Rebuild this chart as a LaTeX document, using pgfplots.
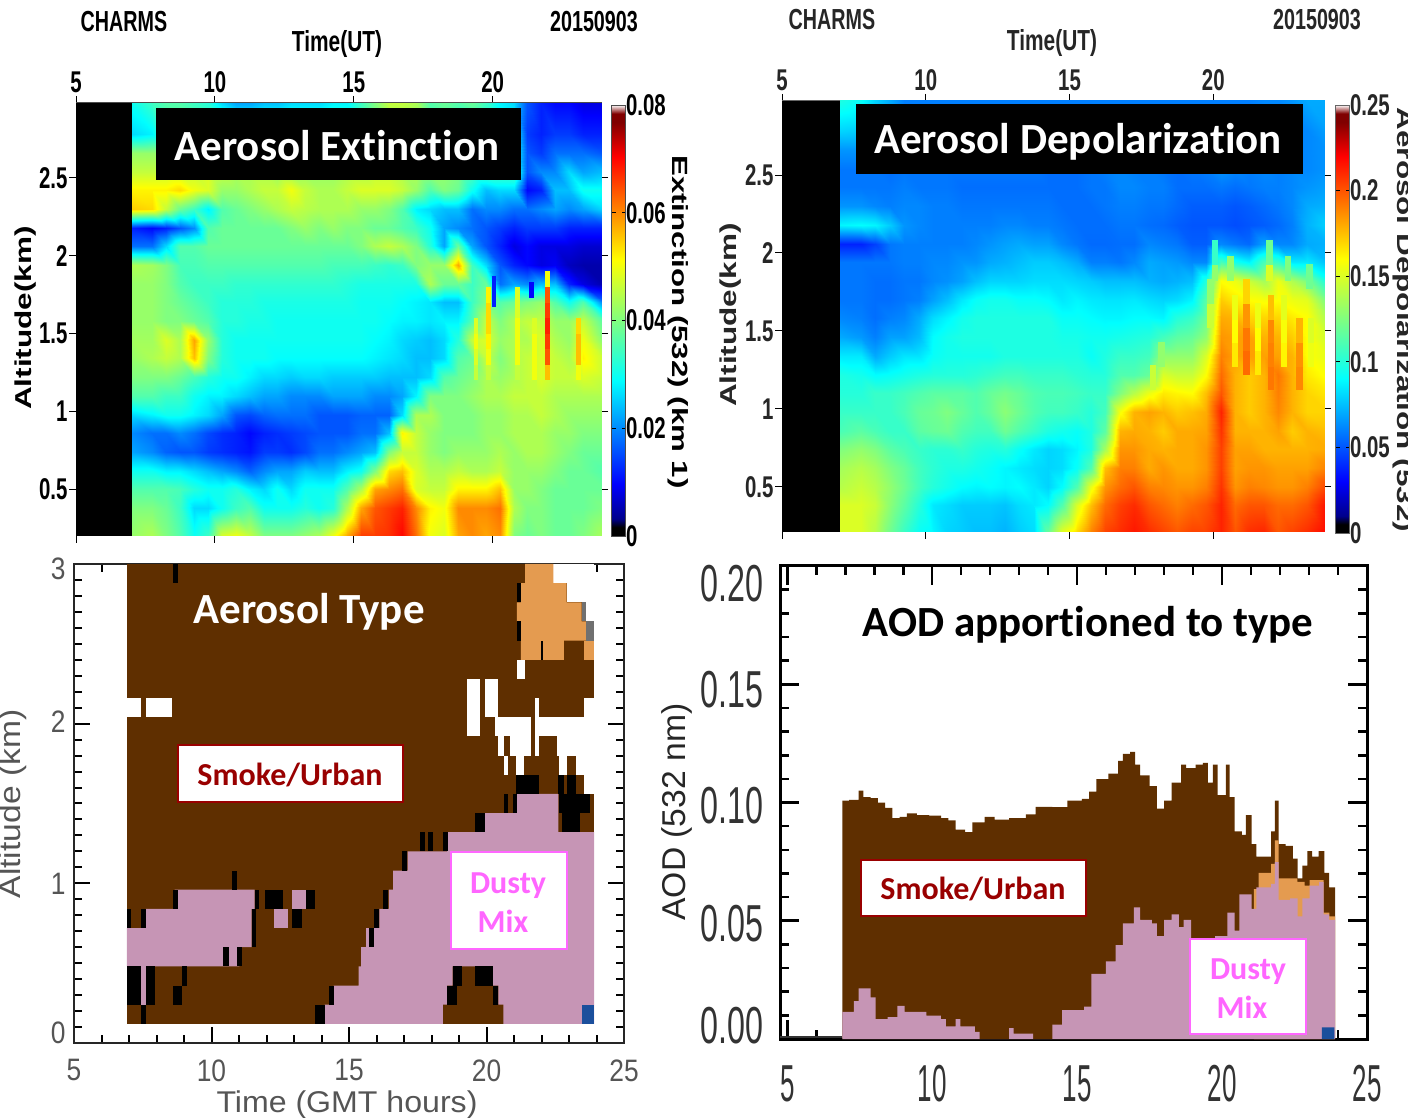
\documentclass[border=0pt]{standalone}
\usepackage{pgfplots}
\usepackage{pgfplotstable}
\usepackage{fontspec}
\pgfplotsset{compat=1.18}
\setmainfont{Liberation Sans}
\newfontfamily\calib[Ligatures=NoCommon]{Carlito}
\definecolor{brn}{HTML}{5F2F00}
\definecolor{pnk}{HTML}{C695B5}
\definecolor{org}{HTML}{E49B50}
\definecolor{blu}{HTML}{1B4F9C}
\definecolor{gry}{HTML}{707070}
\definecolor{smk}{HTML}{990000}
\definecolor{dst}{HTML}{FF66FF}
\definecolor{lab}{HTML}{555555}
\pgfplotsset{colormap={idl}{rgb255(0cm)=(0,0,0); rgb255(1cm)=(0,0,0); rgb255(2cm)=(0,0,140); rgb255(6cm)=(0,0,255);
 rgb255(18cm)=(0,255,255); rgb255(25cm)=(128,255,128); rgb255(32cm)=(255,255,0); rgb255(44cm)=(255,0,0);
 rgb255(48cm)=(128,0,0); rgb255(49cm)=(128,0,0); rgb255(50cm)=(255,255,255)}}
\pgfdeclareplotmark{spike}{\pgfpathrectangle{\pgfpoint{-2.4pt}{-8pt}}{\pgfpoint{4.8pt}{16pt}}\pgfusepathqfill}
\pgfdeclareplotmark{spikeB}{\pgfpathrectangle{\pgfpoint{-3.2pt}{-12.5pt}}{\pgfpoint{6.4pt}{25pt}}\pgfusepathqfill}
\newcommand\nA[1]{\scalebox{.68}[1]{#1}}
\newcommand\nC[1]{\scalebox{.85}[1]{#1}}
\newcommand\nDy[1]{\scalebox{.62}[1]{#1}}
\newcommand\nDx[1]{\scalebox{.5}[1]{#1}}
\newcommand\liftC[2]{\raisebox{#1}[22pt][0pt]{\nC{#2}}}
\newcommand\liftD[2]{\raisebox{#1}[37pt][0pt]{\nDy{#2}}}
\newcommand\R[5]{\addplot[fill=#1,draw=none,forget plot] coordinates {(#2,#4)(#3,#4)(#3,#5)(#2,#5)};}
\newcommand\buildcoords[2]{%
 \gdef#2{}%
 \foreach \r in {0,...,33}{%
  \pgfplotstablegetelem{\r}{t}\of#1\edef\tv{\pgfplotsretval}%
  \foreach \c in {0.20,0.38,0.50,0.62,0.74,0.86,0.98,1.10,1.22,1.34,1.46,1.58,1.70,1.82,1.94,2.06,2.18,2.30,2.42,2.54,2.66,2.78,2.98}{%
   \pgfplotstablegetelem{\r}{\c}\of#1%
   \xdef#2{#2 (\tv,\c) [\pgfplotsretval]}%
  }%
 }%
}
% extinction x 1000; rows = time, columns = altitude (km)
\pgfplotstableread{
t 0.20 0.38 0.50 0.62 0.74 0.86 0.98 1.10 1.22 1.34 1.46 1.58 1.70 1.82 1.94 2.06 2.18 2.30 2.42 2.54 2.66 2.78 2.98
7.0 42 40 36 30 22 20 26 36 40 42 43 42 42 42 44 18 12 55 52 46 42 26 30
7.75 44 40 36 30 20 18 28 36 40 44 43 42 42 42 43 18 10 54 52 46 42 28 34
8.25 40 38 36 28 17 18 30 34 40 46 48 40 40 40 40 26 12 46 52 46 42 36 36
8.75 36 34 35 28 16 20 30 34 38 44 44 40 38 36 35 36 16 38 54 46 42 38 36
9.25 30 26 32 26 16 18 28 30 35 56 58 38 36 34 35 36 20 34 50 46 42 38 34
9.75 34 26 30 24 14 15 26 28 32 40 42 36 34 34 36 38 36 28 48 48 44 38 32
10.25 48 30 30 22 13 13 22 28 30 32 32 32 32 34 36 38 38 36 42 46 44 38 26
10.75 50 34 32 20 12 12 16 26 30 30 30 32 32 33 36 38 38 38 42 44 42 38 22
11.25 46 36 28 17 11 10 15 24 28 30 30 31 32 33 36 38 38 40 44 44 42 38 22
11.75 40 30 26 20 14 12 17 22 26 30 30 31 31 33 36 38 38 42 46 44 42 38 24
12.25 40 30 30 22 14 13 18 22 26 29 30 30 31 33 36 38 38 44 46 42 40 38 24
12.75 40 30 26 22 13 14 18 20 25 29 30 30 31 33 36 38 40 46 50 42 40 38 26
13.25 42 32 30 25 15 15 18 20 26 29 30 30 31 33 36 38 42 45 46 42 40 38 26
13.75 44 30 30 24 18 16 16 20 26 29 30 30 31 33 36 38 40 44 44 42 40 38 26
14.25 50 32 30 24 18 16 16 22 25 29 30 30 31 33 35 38 42 44 44 42 40 38 28
14.75 58 44 36 28 20 16 16 22 25 29 30 30 31 32 35 38 40 44 46 44 42 38 28
15.25 66 58 44 30 22 18 17 22 25 29 30 30 30 31 35 40 40 42 48 44 42 38 34
15.75 66 64 58 40 24 18 17 20 25 28 29 30 30 31 34 44 38 42 48 46 44 40 40
16.25 67 66 60 54 40 24 17 20 24 27 28 29 30 31 33 46 38 40 48 46 44 42 46
16.75 70 68 62 56 46 52 26 22 24 26 26 28 29 31 34 44 36 36 46 44 42 40 46
17.25 62 60 48 48 46 46 44 28 24 24 25 28 28 31 40 40 34 28 42 44 42 40 44
17.75 50 52 46 44 42 42 44 40 26 24 24 27 27 44 42 32 30 26 36 42 40 38 36
18.25 48 50 46 44 40 40 40 40 36 26 26 28 24 38 42 22 22 24 40 42 40 36 38
18.75 58 60 52 46 42 40 40 40 38 36 32 28 24 38 58 38 20 24 38 40 38 34 36
19.25 60 60 52 44 42 40 40 42 40 38 46 36 34 34 34 22 18 18 30 36 34 30 38
19.75 58 60 52 44 42 42 42 44 44 46 48 46 40 38 26 16 16 20 24 36 34 30 34
20.25 60 62 56 46 44 42 42 44 42 40 42 40 36 18 16 12 14 20 26 36 32 30 28
20.75 40 44 42 42 42 44 44 46 44 44 44 44 38 22 12 8 12 18 26 36 32 30 26
21.25 38 40 42 42 44 44 44 46 46 46 44 46 40 20 10 10 14 18 10 16 16 14 16
21.75 40 40 40 42 44 44 46 46 48 48 48 46 42 24 8 8 14 20 12 20 14 12 12
22.25 38 38 38 40 42 42 44 44 46 46 44 42 36 24 9 8 14 22 24 20 18 14 10
22.75 38 38 38 38 40 42 42 44 46 44 42 42 30 12 6 8 12 20 24 26 18 14 10
23.25 40 38 38 38 38 40 42 44 48 52 50 46 36 8 5 7 12 22 30 22 18 12 8
24.0 44 40 38 36 38 40 42 44 46 46 40 36 18 5 5 7 12 26 30 24 16 12 8
}\tabA
\pgfplotstableread{
t a v
19.4 1.25 46
19.4 1.35 48
19.4 1.45 50
19.4 1.55 48
19.85 1.25 46
19.85 1.35 50
19.85 1.45 52
19.85 1.55 54
19.85 1.65 54
19.85 1.75 52
20.05 1.72 12
20.05 1.82 12
20.9 1.25 46
20.9 1.35 50
20.9 1.45 50
20.9 1.55 50
20.9 1.65 48
20.9 1.75 48
21.5 1.15 46
21.5 1.25 50
21.5 1.35 50
21.5 1.45 50
21.5 1.55 48
21.98 1.25 56
21.98 1.35 64
21.98 1.45 66
21.98 1.55 68
21.98 1.65 66
21.98 1.75 64
21.98 1.85 50
23.1 1.25 50
23.1 1.35 56
23.1 1.45 56
23.1 1.55 54
21.4 1.78 10
}\spA
% depolarization x 1000
\pgfplotstableread{
t 0.20 0.38 0.50 0.62 0.74 0.86 0.98 1.10 1.22 1.34 1.46 1.58 1.70 1.82 1.94 2.06 2.18 2.30 2.42 2.54 2.66 2.78 2.98
7.0 150 150 140 135 125 110 105 100 98 85 70 62 58 58 58 38 88 65 58 58 65 80 98
7.75 150 150 145 140 130 115 105 100 95 85 66 60 58 58 58 38 90 65 58 58 65 78 92
8.25 140 145 140 135 125 110 105 105 90 70 60 56 56 56 58 45 88 62 58 58 62 70 80
8.75 120 128 130 125 115 105 105 105 92 78 68 60 56 56 58 58 78 60 58 56 60 65 70
9.25 105 115 120 118 110 105 110 108 95 84 68 62 58 58 60 60 65 62 60 58 60 60 60
9.75 92 100 108 108 105 115 118 112 98 84 74 70 60 58 60 60 62 62 58 58 60 60 60
10.25 88 85 100 102 102 118 120 115 100 92 90 82 68 62 62 60 60 60 58 58 60 60 60
10.75 80 82 95 98 102 120 125 115 100 95 95 88 75 64 62 60 60 60 58 58 60 60 60
11.25 78 78 90 98 105 112 118 115 100 95 98 95 85 68 65 60 60 58 56 58 60 60 60
11.75 75 78 88 95 100 108 112 112 102 95 98 98 92 75 65 62 60 58 56 58 60 60 60
12.25 75 78 90 92 98 108 118 118 105 95 98 98 95 80 70 65 60 58 56 58 60 60 60
12.75 72 76 88 88 100 120 128 122 108 98 98 98 95 80 72 68 62 58 56 58 60 60 60
13.25 78 82 90 85 92 112 120 118 108 98 98 98 92 80 75 70 62 58 56 58 60 60 60
13.75 82 85 85 82 85 105 112 112 105 98 98 98 92 82 78 68 60 58 56 58 60 60 60
14.25 120 90 80 80 80 98 108 110 105 98 98 98 90 82 78 68 60 58 56 56 58 60 60
14.75 155 112 90 82 82 95 108 110 105 98 96 92 85 82 75 62 58 56 56 56 58 60 60
15.25 170 150 112 92 88 92 105 108 102 98 96 92 88 80 70 58 56 56 56 56 58 60 60
15.75 190 175 155 112 98 98 100 105 100 92 94 90 85 78 60 55 56 56 58 58 60 60 60
16.25 205 195 185 175 135 115 108 105 100 98 94 88 84 75 60 55 56 58 58 60 62 62 60
16.75 210 205 195 190 185 178 158 125 112 105 96 88 84 75 58 56 58 60 62 62 62 62 60
17.25 215 210 200 190 185 180 178 140 112 105 98 90 85 75 62 56 58 60 62 60 60 60 60
17.75 210 200 190 180 180 178 182 155 118 108 100 90 82 72 70 62 56 58 60 60 60 60 60
18.25 205 195 188 185 178 172 178 165 150 130 108 88 80 70 68 60 55 58 60 58 58 58 60
18.75 200 190 185 180 180 180 172 162 145 130 115 100 82 72 66 58 52 55 56 56 58 60 60
19.25 205 195 185 180 180 180 175 160 145 130 118 105 88 75 62 52 50 52 56 58 60 60 60
19.75 205 200 190 185 185 182 180 175 160 150 130 120 115 100 62 52 50 52 56 60 62 60 60
20.25 212 212 208 205 205 208 212 200 195 190 185 180 172 160 110 62 50 52 58 65 62 60 60
20.75 200 195 185 182 182 178 178 178 178 182 182 178 165 155 95 58 48 50 56 62 60 60 60
21.25 210 200 190 185 182 178 172 172 172 182 182 170 160 145 88 55 50 52 58 60 60 60 60
21.75 212 200 188 185 178 178 178 178 178 182 178 170 158 135 110 68 52 55 60 62 62 62 62
22.25 200 195 185 182 178 182 188 190 192 182 178 170 160 155 105 62 55 58 60 60 60 62 62
22.75 205 195 185 182 178 172 178 178 178 178 172 165 155 138 85 62 60 62 62 62 60 60 65
23.25 210 200 190 182 178 178 170 170 165 160 160 160 152 125 85 70 72 70 65 62 62 62 70
24.0 220 218 205 190 180 175 170 165 158 152 145 135 120 95 75 72 80 72 68 65 65 68 70
}\tabB
\pgfplotstableread{
t a v
20.05 1.9 130
20.05 2.0 105
20.6 1.9 130
21.96 1.9 150
21.96 2.0 120
22.6 1.9 125
23.35 1.85 120
18.2 1.35 130
17.9 1.2 145
19.9 1.6 145
19.9 1.75 130
20.75 1.35 165
20.75 1.5 160
20.75 1.65 155
21.15 1.3 195
21.15 1.45 192
21.15 1.6 185
21.15 1.75 170
21.55 1.3 165
21.55 1.45 160
21.55 1.6 155
22.0 1.2 192
22.0 1.35 190
22.0 1.5 188
22.0 1.65 175
22.45 1.35 162
22.45 1.5 158
22.45 1.65 152
23.0 1.2 188
23.0 1.35 186
23.0 1.5 178
23.4 1.35 155
23.4 1.5 150
}\spB
\buildcoords{\tabA}{\coordsA}
\buildcoords{\tabB}{\coordsB}
\begin{document}
\begin{tikzpicture}[x=1pt,y=1pt]
\useasboundingbox (0,0) rectangle (1408,1117);

% ---- Panel A
\begin{axis}[at={(76pt,581pt)},anchor=south west,width=525pt,height=433pt,scale only axis,
 clip marker paths=true,
 xmin=5,xmax=23.9,ymin=0.2,ymax=2.98,
 axis line style={draw=black!70,line width=1pt},
 tick style={draw=black,line width=0.8pt},tick align=outside,major tick length=7pt,
 xtick={5,10,15,20},xticklabels={\nA{5},\nA{10},\nA{15},\nA{20}},xtick pos=both,xticklabel pos=top,
 ytick={0.5,1,1.5,2,2.5},yticklabels={\nA{0.5},\nA{1},\nA{1.5},\nA{2},\nA{2.5}},ytick pos=both,yticklabel pos=left,
 tick label style={font=\fontsize{30}{32}\selectfont\bfseries},
 yticklabel style={xshift=2pt},
 colormap name=idl,point meta min=0,point meta max=80,
 colorbar,colorbar style={at={(parent axis.south east)},anchor=south west,xshift=2pt,width=14pt,height=431pt,
  axis line style={draw=black!70},
  ytick={0,20,40,60,80},yticklabels={\nA{0},\nA{0.02},\nA{0.04},\nA{0.06},\nA{0.08}},
  yticklabel pos=right,tick label style={font=\fontsize{30}{32}\selectfont\bfseries},major tick length=4pt,
  yticklabel style={xshift=-3pt}}]
\edef\tmp{\noexpand\addplot[surf,shader=interp,forget plot,mesh/ordering=y varies,mesh/rows=23,mesh/cols=34,point meta=explicit] coordinates {\coordsA};}\tmp
\addplot[scatter,only marks,mark=spike,forget plot,scatter/use mapped color={fill=mapped color,draw=none},
  point meta=\thisrow{v}] table[x=t,y=a] {\spA};
\R{black}{5}{7}{0.2}{2.98}
\end{axis}

% ---- Panel B
\begin{axis}[at={(782pt,585pt)},anchor=south west,width=542pt,height=431pt,scale only axis,
 clip marker paths=true,
 xmin=5,xmax=23.85,ymin=0.21,ymax=2.974,
 axis line style={draw=black!60,line width=1pt},
 tick style={draw=black,line width=0.8pt},tick align=outside,major tick length=7pt,
 xtick={5,10,15,20},xticklabels={\nA{5},\nA{10},\nA{15},\nA{20}},xtick pos=both,xticklabel pos=top,
 ytick={0.5,1,1.5,2,2.5},yticklabels={\nA{0.5},\nA{1},\nA{1.5},\nA{2},\nA{2.5}},ytick pos=both,yticklabel pos=left,
 tick label style={font=\fontsize{30}{32}\selectfont\bfseries,text=black!85},
 yticklabel style={xshift=2pt},
 colormap name=idl,point meta min=0,point meta max=250,
 colorbar,colorbar style={at={(parent axis.south east)},anchor=south west,xshift=3pt,yshift=-1pt,width=14pt,height=428pt,
  axis line style={draw=black!60},
  ytick={0,50,100,150,200,250},yticklabels={\nA{0},\nA{0.05},\nA{0.1},\nA{0.15},\nA{0.2},\nA{0.25}},
  yticklabel pos=right,tick label style={font=\fontsize{30}{32}\selectfont\bfseries,text=black!85},major tick length=4pt,
  yticklabel style={xshift=-3pt}}]
\edef\tmp{\noexpand\addplot[surf,shader=interp,forget plot,mesh/ordering=y varies,mesh/rows=23,mesh/cols=34,point meta=explicit] coordinates {\coordsB};}\tmp
\addplot[scatter,only marks,mark=spikeB,forget plot,scatter/use mapped color={fill=mapped color,draw=none},
  point meta=\thisrow{v}] table[x=t,y=a] {\spB};
\R{black}{5}{7}{0.21}{2.974}
\end{axis}

% ---- Panel C
\begin{axis}[at={(74pt,74pt)},anchor=south west,width=550pt,height=479pt,scale only axis,
 xmin=5,xmax=25,ymin=0,ymax=3,
 axis line style={draw=black!85,line width=2.5pt},
 tick style={draw=black,line width=2pt},tick align=inside,major tick length=16pt,minor tick length=8pt,
 xtick={5,10,15,20,25},xticklabels={\nC{5},\nC{10},\nC{15},\nC{20},\nC{25}},
 ytick={0,1,2,3},yticklabels={\liftC{11pt}{0},\liftC{0pt}{1},\liftC{2pt}{2},\liftC{-5pt}{3}},
 minor x tick num=4,minor y tick num=9,
 tick label style={font=\fontsize{31}{33}\selectfont,text=lab},
 xticklabel style={yshift=-13pt},yticklabel style={xshift=-5pt}]
\R{brn}{6.92}{23.91}{0.12}{3}
% no-data cells
\R{white}{6.92}{7.42}{2.04}{2.16}
\R{white}{7.63}{8.57}{2.04}{2.16}
\R{white}{22.43}{23.91}{2.88}{3}
\R{white}{22.91}{23.91}{2.76}{2.88}
\R{white}{23.46}{23.91}{2.64}{2.76}
\R{white}{21.10}{21.40}{2.28}{2.40}
\R{white}{19.28}{19.78}{1.92}{2.28}
\R{white}{19.96}{20.43}{2.04}{2.28}
\R{white}{20.31}{21.60}{1.92}{2.04}
\R{white}{21.75}{23.91}{1.92}{2.04}
\R{white}{21.75}{21.90}{2.04}{2.16}
\R{white}{23.56}{23.91}{2.04}{2.16}
\R{white}{20.43}{20.64}{1.80}{1.92}
\R{white}{20.84}{21.60}{1.80}{1.92}
\R{white}{21.75}{21.90}{1.80}{1.92}
\R{white}{22.58}{23.91}{1.80}{1.92}
\R{white}{20.64}{20.79}{1.68}{1.80}
\R{white}{21.07}{21.37}{1.68}{1.80}
\R{white}{22.65}{22.91}{1.68}{1.80}
\R{white}{23.26}{23.91}{1.68}{1.80}
\R{white}{23.56}{23.91}{1.56}{1.68}
% orange
\addplot[fill=org,draw=none,forget plot] coordinates {(21.40,3)(22.43,3)(22.43,2.88)(22.91,2.88)(22.91,2.76)(23.46,2.76)(23.46,2.64)(23.61,2.64)(23.61,2.52)(22.81,2.52)(22.81,2.40)(21.25,2.40)(21.25,2.64)(21.10,2.64)(21.10,2.76)(21.25,2.76)(21.25,2.88)(21.40,2.88)};
\R{org}{23.56}{23.91}{2.40}{2.52}
\R{gry}{23.61}{23.91}{2.52}{2.64}
\R{gry}{23.46}{23.61}{2.64}{2.76}
% pink
\addplot[fill=pnk,draw=none,forget plot] coordinates {(14.11,0.12)(23.91,0.12)(23.91,1.32)(22.61,1.32)(22.61,1.56)(21.10,1.56)(21.10,1.44)(19.93,1.44)(19.93,1.32)(18.57,1.32)(18.57,1.20)(17.13,1.20)(17.13,1.08)(16.60,1.08)(16.60,0.96)(16.45,0.96)(16.45,0.84)(16.10,0.84)(16.10,0.72)(15.62,0.72)(15.62,0.60)(15.44,0.60)(15.44,0.48)(15.35,0.48)(15.35,0.36)(14.44,0.36)(14.44,0.24)(14.11,0.24)};
\addplot[fill=brn,draw=none,forget plot] coordinates {(18.42,0.12)(20.61,0.12)(20.61,0.24)(20.43,0.24)(20.43,0.36)(20.23,0.36)(20.23,0.48)(18.77,0.48)(18.77,0.36)(18.57,0.36)(18.57,0.24)(18.42,0.24)};
\addplot[fill=pnk,draw=none,forget plot] coordinates {(6.92,0.72)(7.60,0.72)(7.60,0.84)(8.66,0.84)(8.66,0.96)(11.57,0.96)(11.57,0.84)(11.46,0.84)(11.46,0.60)(11.01,0.60)(11.01,0.48)(6.92,0.48)};
\R{pnk}{12.93}{13.43}{0.84}{0.96}
\R{pnk}{12.26}{12.78}{0.72}{0.84}
\R{pnk}{7.45}{7.63}{0.24}{0.48}
\R{blu}{23.46}{23.91}{0.12}{0.24}
% black cells
\R{black}{8.59}{8.78}{2.88}{3}
\R{black}{6.92}{7.07}{0.72}{0.84}
\R{black}{7.45}{7.63}{0.72}{0.84}
\R{black}{8.59}{8.78}{0.84}{0.96}
\R{black}{10.73}{10.93}{0.96}{1.08}
\R{black}{11.57}{11.73}{0.84}{0.96}
\R{black}{11.46}{11.61}{0.60}{0.84}
\R{black}{11.94}{12.59}{0.84}{0.96}
\R{black}{13.43}{13.76}{0.84}{0.96}
\R{black}{12.93}{13.28}{0.72}{0.84}
\R{black}{10.43}{10.63}{0.48}{0.60}
\R{black}{10.93}{11.11}{0.48}{0.60}
\R{black}{6.92}{7.45}{0.24}{0.48}
\R{black}{7.63}{7.93}{0.24}{0.48}
\R{black}{7.45}{7.63}{0.12}{0.24}
\R{black}{8.59}{8.92}{0.24}{0.36}
\R{black}{8.92}{9.10}{0.36}{0.48}
\R{black}{13.76}{14.11}{0.12}{0.24}
\R{black}{14.26}{14.44}{0.24}{0.36}
\R{black}{15.74}{15.92}{0.60}{0.72}
\R{black}{15.92}{16.10}{0.72}{0.84}
\R{black}{16.22}{16.41}{0.84}{0.96}
\R{black}{16.91}{17.10}{1.08}{1.20}
\R{black}{17.59}{17.77}{1.20}{1.32}
\R{black}{17.89}{18.07}{1.20}{1.32}
\R{black}{18.42}{18.60}{1.20}{1.32}
\R{black}{19.58}{19.93}{1.32}{1.44}
\R{black}{20.64}{20.79}{1.44}{1.56}
\R{black}{20.95}{21.10}{1.44}{1.56}
\R{black}{21.07}{21.90}{1.56}{1.68}
\R{black}{22.61}{22.81}{1.56}{1.68}
\R{black}{22.91}{23.26}{1.56}{1.68}
\R{black}{22.73}{23.41}{1.32}{1.44}
\R{black}{22.65}{23.76}{1.44}{1.56}
\R{black}{18.77}{19.10}{0.36}{0.48}
\R{black}{18.57}{18.92}{0.24}{0.36}
\R{black}{19.58}{20.23}{0.36}{0.48}
\R{black}{20.23}{20.43}{0.24}{0.36}
\R{black}{21.10}{21.25}{2.76}{2.88}
\R{black}{21.10}{21.25}{2.52}{2.64}
\R{black}{21.97}{22.05}{2.40}{2.52}
\end{axis}

% ---- Panel D
\begin{axis}[at={(780pt,78pt)},anchor=south west,width=587pt,height=473pt,scale only axis,
 xmin=4.75,xmax=25,ymin=0,ymax=0.2,
 axis line style={draw=black,line width=3pt},
 tick style={draw=black,line width=2.6pt},tick align=inside,major tick length=19pt,minor tick length=9pt,
 xtick={5,10,15,20,25},xticklabels={\nDx{5},\nDx{10},\nDx{15},\nDx{20},\nDx{25}},
 ytick={0,0.05,0.10,0.15,0.20},yticklabels={\liftD{14pt}{0.00},\liftD{-2pt}{0.05},\liftD{-2pt}{0.10},\liftD{-5pt}{0.15},\liftD{-17pt}{0.20}},
 minor x tick num=4,minor y tick num=4,
 tick label style={font=\fontsize{52}{54}\selectfont,text=black!80},
 xticklabel style={yshift=-23pt},yticklabel style={xshift=-13pt}]
\addplot[const plot,fill=brn,draw=none,forget plot] coordinates {(6.9,0)(6.9,.1008)(7.13,.1011)(7.46,.1050)(7.63,.1023)(7.88,.1018)(8.13,.1000)(8.38,.0977)(8.63,.0934)(8.88,.0939)(9.13,.0954)(9.47,.0947)(9.89,.0944)(10.31,.0934)(10.56,.0924)(10.81,.0885)(11.14,.0875)(11.39,.0916)(11.81,.0939)(12.15,.0928)(12.65,.0934)(13.23,.0950)(13.57,.0982)(14.15,.0980)(14.66,.1008)(15.16,.1015)(15.41,.1046)(15.66,.1099)(16.08,.1122)(16.41,.1176)(16.58,.1206)(16.83,.1214)(17.0,.1160)(17.17,.1115)(17.5,.1069)(17.75,.0974)(18.0,.1008)(18.26,.1084)(18.59,.1160)(18.76,.1145)(19.09,.1160)(19.34,.1168)(19.51,.1084)(19.68,.1160)(19.85,.1031)(20.13,.1160)(20.26,.1023)(20.43,.0878)(20.68,.0863)(20.82,.0947)(21.02,.0824)(21.18,.0771)(21.43,.0771)(21.69,.0878)(21.82,.1008)(21.95,.0824)(22.19,.0817)(22.44,.0763)(22.61,.0679)(22.77,.0733)(22.94,.0794)(23.11,.0771)(23.33,.0794)(23.53,.0702)(23.69,.0641)(23.9,.0603)(23.9,0)};
\addplot[const plot,fill=org,draw=none,forget plot] coordinates {(21.1,0)(21.1,.0634)(21.26,.0702)(21.69,.0740)(21.82,.0840)(21.95,.0679)(22.35,.0679)(22.6,.0664)(22.85,.0649)(23.02,.0672)(23.35,.0672)(23.5,.0534)(23.7,.0519)(23.9,.0466)(23.9,0)};
\addplot[const plot,fill=pnk,draw=none,forget plot] coordinates {(6.9,0)(6.9,.0115)(7.3,.016)(7.46,.0214)(7.88,.0176)(8.05,.0084)(8.46,.0092)(8.8,.014)(9.05,.0115)(9.8,.0099)(10.3,.0084)(10.47,.0053)(10.81,.0084)(10.97,.0053)(11.47,.003)(11.64,0)(12.56,0)(12.65,.0046)(12.81,.0023)(13.4,.0023)(13.48,0)(14.06,0)(14.15,.0061)(14.48,.0122)(15.24,.0137)(15.49,.0275)(15.99,.0328)(16.33,.0397)(16.58,.0489)(16.96,.0557)(17.17,.0504)(17.58,.0489)(17.75,.0435)(18.0,.0504)(18.26,.0527)(18.51,.0473)(18.67,.0504)(18.93,.0427)(19.76,.0435)(20.18,.0534)(20.43,.0458)(20.6,.0611)(21.02,.0550)(21.18,.0641)(21.69,.0656)(21.82,.0748)(21.95,.0588)(22.35,.0595)(22.61,.0519)(22.77,.0595)(23.02,.0649)(23.35,.0664)(23.5,.0527)(23.69,.0504)(23.9,.0443)(23.9,0)};
\addplot[const plot,fill=blu,draw=none,forget plot] coordinates {(23.44,0)(23.44,.0049)(23.87,.0049)(23.87,0)};
\addplot[draw=black!80,line width=2pt,forget plot] coordinates {(4.75,.0008)(6.9,.0008)};
\end{axis}

% ---- Annotations
\fill[black] (156,937) rectangle (521,1009);
\fill[black] (856,943) rectangle (1303,1013);
\node[text=white,font=\fontsize{43}{45}\selectfont\calib\bfseries] at (337,971) {Aerosol Extinction};
\node[text=white,font=\fontsize{43}{45}\selectfont\calib\bfseries] at (1078,975) {Aerosol Depolarization};
\node[text=white,font=\fontsize{43}{45}\selectfont\calib\bfseries] at (309,505) {Aerosol Type};
\node[text=black,font=\fontsize{43}{45}\selectfont\calib\bfseries] at (1088,492) {AOD apportioned to type};

\draw[smk,line width=1.5pt,fill=white] (178,315) rectangle (403,372);
\draw[smk,line width=1.5pt,fill=white] (861,201) rectangle (1086,257);
\draw[dst,line width=1.5pt,fill=white] (451,168) rectangle (567,265);
\draw[dst,line width=1.5pt,fill=white] (1190,83) rectangle (1306,178);
\node[text=smk,font=\fontsize{32}{34}\selectfont\calib\bfseries] at (290,342) {Smoke/Urban};
\node[text=smk,font=\fontsize{32}{34}\selectfont\calib\bfseries] at (973,228) {Smoke/Urban};
\node[text=dst,font=\fontsize{32}{34}\selectfont\calib\bfseries] at (508,231) {Dusty};
\node[text=dst,font=\fontsize{32}{34}\selectfont\calib\bfseries] at (503,196) {Mix};
\node[text=dst,font=\fontsize{32}{34}\selectfont\calib\bfseries] at (1248,145) {Dusty};
\node[text=dst,font=\fontsize{32}{34}\selectfont\calib\bfseries] at (1242,110) {Mix};

\node[font=\fontsize{29}{31}\selectfont\bfseries] at (124,1095) {\scalebox{.68}[1]{CHARMS}};
\node[font=\fontsize{29}{31}\selectfont\bfseries] at (594,1095) {\scalebox{.68}[1]{20150903}};
\node[font=\fontsize{29}{31}\selectfont] at (337,1073) {\scalebox{.72}[1]{\bfseries Time(UT)}};
\node[font=\fontsize{29}{31}\selectfont\bfseries,text=black!85] at (832,1097) {\scalebox{.68}[1]{CHARMS}};
\node[font=\fontsize{29}{31}\selectfont\bfseries,text=black!85] at (1317,1097) {\scalebox{.68}[1]{20150903}};
\node[font=\fontsize{29}{31}\selectfont\bfseries,text=black!85] at (1052,1074) {\scalebox{.72}[1]{Time(UT)}};

\node[rotate=90,font=\fontsize{23}{25}\selectfont\bfseries] at (26,799) {\scalebox{1.37}[1]{Altitude(km)}};
\node[rotate=90,font=\fontsize{23}{25}\selectfont\bfseries,text=black!85] at (731,802) {\scalebox{1.37}[1]{Altitude(km)}};
\node[rotate=-90,font=\fontsize{22}{24}\selectfont\bfseries] at (678,795) {\scalebox{1.42}[1]{Extinction (532) (km 1)}};
\node[rotate=-90,font=\fontsize{22}{24}\selectfont\bfseries,text=black!85] at (1403,797) {\scalebox{1.43}[1]{Aerosol Depolarization (532)}};
\node[rotate=90,font=\fontsize{30}{32}\selectfont,text=lab] at (13,313) {\scalebox{1.12}[1]{Altitude (km)}};
\node[font=\fontsize{30}{32}\selectfont,text=lab] at (347,12) {\scalebox{1.07}[1]{Time (GMT hours)}};
\node[rotate=90,font=\fontsize{33}{35}\selectfont,text=black!85] at (677,305) {\scalebox{1.02}[1]{AOD (532 nm)}};
\end{tikzpicture}
\end{document}
